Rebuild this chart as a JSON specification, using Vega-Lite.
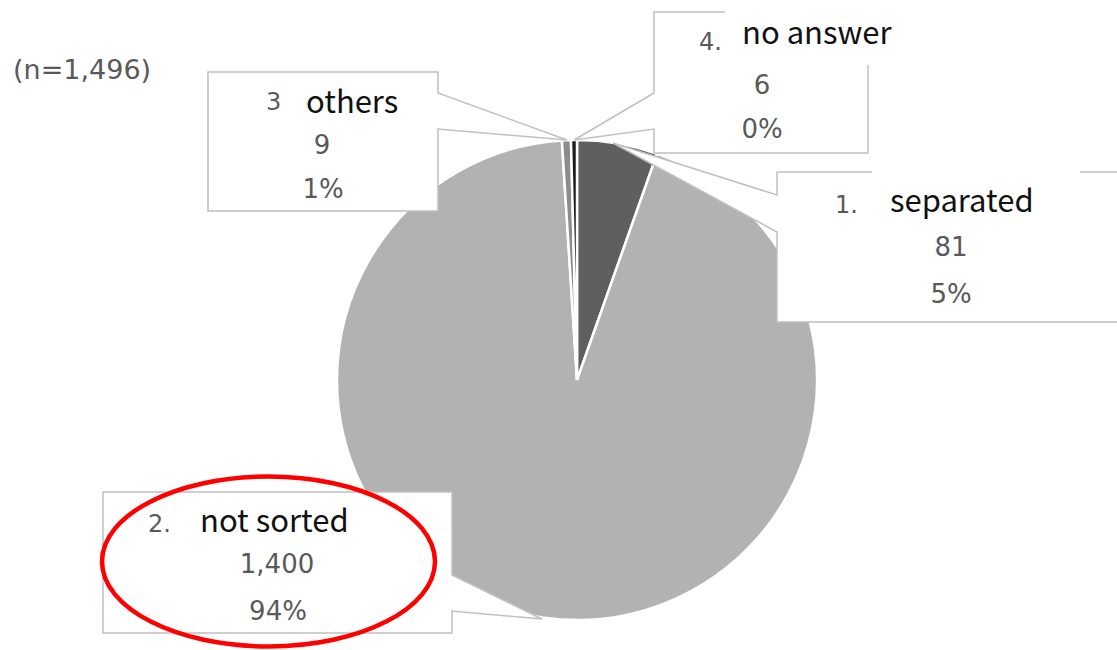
{
  "$schema": "https://vega.github.io/schema/vega-lite/v6.json",
  "width": 960,
  "height": 480,
  "autosize": "none",
  "padding": {"left": 97, "top": 140, "right": 60, "bottom": 30},
  "background": "white",
  "config": {"view": {"stroke": null}},
  "title": {
    "text": "(n=1,496)",
    "anchor": "start",
    "frame": "group",
    "orient": "top",
    "dx": -84,
    "offset": -104,
    "baseline": "alphabetic",
    "font": "DejaVu Sans",
    "fontSize": 27,
    "fontWeight": "normal",
    "color": "#595959"
  },
  "data": {
    "values": [
      {"category": "separated", "prefix": "1.", "label": "separated", "count": 81, "pct": 0.0541, "order": 1},
      {"category": "not sorted", "prefix": "2.", "label": "not sorted", "count": 1400, "pct": 0.9358, "order": 2},
      {"category": "others", "prefix": "3", "label": "others", "count": 9, "pct": 0.006, "order": 3},
      {"category": "no answer", "prefix": "4.", "label": "no answer", "count": 6, "pct": 0.004, "order": 4}
    ]
  },
  "layer": [
    {
      "mark": {"type": "arc", "outerRadius": 240, "stroke": "white", "strokeWidth": 2.5},
      "encoding": {
        "theta": {"field": "count", "type": "quantitative", "stack": true},
        "color": {
          "field": "category",
          "type": "nominal",
          "scale": {
            "domain": ["separated", "not sorted", "others", "no answer"],
            "range": ["#5f5f5f", "#b2b2b2", "#8c8c8c", "#1c1c1c"]
          },
          "legend": null
        },
        "order": {"field": "order", "type": "quantitative"}
      }
    },
    {
      "data": {"values": [{}]},
      "mark": {
        "type": "point",
        "shape": "M-369,-308 L-139,-308 L-139,-287 L-10,-240 L-139,-251 L-139,-169 L-369,-169 Z M77,-368 L291,-368 L291,-227 L77,-227 L77,-251 L-3,-240 L77,-287 Z M200,-208 L542,-208 L542,-58 L200,-58 L200,-148 L36,-237 L200,-185 Z M-474,112 L-125,112 L-125,195 L-35,239 L-125,231 L-125,253 L-474,253 Z",
        "size": 4,
        "filled": true,
        "fill": "white",
        "stroke": "#c0c0c0",
        "strokeWidth": 1.5,
        "opacity": 1,
        "fillOpacity": 1
      },
      "encoding": {}
    },
    {
      "data": {"values": [{}]},
      "mark": {
        "type": "point",
        "shape": "M148,-378 L325,-378 L325,-315 L148,-315 Z M295,-212 L503,-212 L503,-204 L295,-204 Z",
        "size": 4,
        "filled": true,
        "fill": "white",
        "strokeWidth": 0,
        "opacity": 1
      },
      "encoding": {}
    },
    {
      "transform": [{"filter": "datum.category === 'others'"}],
      "layer": [
        {"mark": {"type": "text", "align": "left", "baseline": "alphabetic", "dx": -311, "dy": -270, "font": "DejaVu Sans", "fontSize": 24, "fill": "#595959"}, "encoding": {"text": {"field": "prefix"}}},
        {"mark": {"type": "text", "align": "left", "baseline": "alphabetic", "dx": -271, "dy": -267, "font": "Noto Sans CJK JP", "fontSize": 31, "fill": "#111111"}, "encoding": {"text": {"field": "label"}}},
        {"mark": {"type": "text", "align": "center", "baseline": "alphabetic", "dx": -255, "dy": -226, "font": "DejaVu Sans", "fontSize": 26, "fill": "#595959"}, "encoding": {"text": {"field": "count", "format": ","}}},
        {"mark": {"type": "text", "align": "center", "baseline": "alphabetic", "dx": -254, "dy": -182, "font": "DejaVu Sans", "fontSize": 26, "fill": "#595959"}, "encoding": {"text": {"field": "pct", "format": ".0%"}}}
      ]
    },
    {
      "transform": [{"filter": "datum.category === 'no answer'"}],
      "layer": [
        {"mark": {"type": "text", "align": "left", "baseline": "alphabetic", "dx": 122, "dy": -330, "font": "DejaVu Sans", "fontSize": 24, "fill": "#595959"}, "encoding": {"text": {"field": "prefix"}}},
        {"mark": {"type": "text", "align": "left", "baseline": "alphabetic", "dx": 165, "dy": -336, "font": "Noto Sans CJK JP", "fontSize": 31, "fill": "#111111"}, "encoding": {"text": {"field": "label"}}},
        {"mark": {"type": "text", "align": "center", "baseline": "alphabetic", "dx": 185, "dy": -286, "font": "DejaVu Sans", "fontSize": 26, "fill": "#595959"}, "encoding": {"text": {"field": "count", "format": ","}}},
        {"mark": {"type": "text", "align": "center", "baseline": "alphabetic", "dx": 185, "dy": -242, "font": "DejaVu Sans", "fontSize": 26, "fill": "#595959"}, "encoding": {"text": {"field": "pct", "format": ".0%"}}}
      ]
    },
    {
      "transform": [{"filter": "datum.category === 'separated'"}],
      "layer": [
        {"mark": {"type": "text", "align": "left", "baseline": "alphabetic", "dx": 258, "dy": -167, "font": "DejaVu Sans", "fontSize": 24, "fill": "#595959"}, "encoding": {"text": {"field": "prefix"}}},
        {"mark": {"type": "text", "align": "left", "baseline": "alphabetic", "dx": 313, "dy": -168, "font": "Noto Sans CJK JP", "fontSize": 31, "fill": "#111111"}, "encoding": {"text": {"field": "label"}}},
        {"mark": {"type": "text", "align": "center", "baseline": "alphabetic", "dx": 374, "dy": -124, "font": "DejaVu Sans", "fontSize": 26, "fill": "#595959"}, "encoding": {"text": {"field": "count", "format": ","}}},
        {"mark": {"type": "text", "align": "center", "baseline": "alphabetic", "dx": 374, "dy": -77, "font": "DejaVu Sans", "fontSize": 26, "fill": "#595959"}, "encoding": {"text": {"field": "pct", "format": ".0%"}}}
      ]
    },
    {
      "transform": [{"filter": "datum.category === 'not sorted'"}],
      "layer": [
        {"mark": {"type": "text", "align": "left", "baseline": "alphabetic", "dx": -429, "dy": 152, "font": "DejaVu Sans", "fontSize": 24, "fill": "#595959"}, "encoding": {"text": {"field": "prefix"}}},
        {"mark": {"type": "text", "align": "left", "baseline": "alphabetic", "dx": -377, "dy": 152, "font": "Noto Sans CJK JP", "fontSize": 31, "fill": "#111111"}, "encoding": {"text": {"field": "label"}}},
        {"mark": {"type": "text", "align": "center", "baseline": "alphabetic", "dx": -300, "dy": 193, "font": "DejaVu Sans", "fontSize": 26, "fill": "#595959"}, "encoding": {"text": {"field": "count", "format": ","}}},
        {"mark": {"type": "text", "align": "center", "baseline": "alphabetic", "dx": -299, "dy": 240, "font": "DejaVu Sans", "fontSize": 26, "fill": "#595959"}, "encoding": {"text": {"field": "pct", "format": ".0%"}}}
      ]
    },
    {
      "data": {"values": [{}]},
      "mark": {
        "type": "point",
        "shape": "M-142,181.5 C-142,228.45 -216.54,266.5 -308.5,266.5 C-400.46,266.5 -475,228.45 -475,181.5 C-475,134.55 -400.46,96.5 -308.5,96.5 C-216.54,96.5 -142,134.55 -142,181.5 Z",
        "size": 4,
        "filled": false,
        "stroke": "#ff0000",
        "strokeWidth": 4.5,
        "opacity": 1
      },
      "encoding": {}
    }
  ]
}
